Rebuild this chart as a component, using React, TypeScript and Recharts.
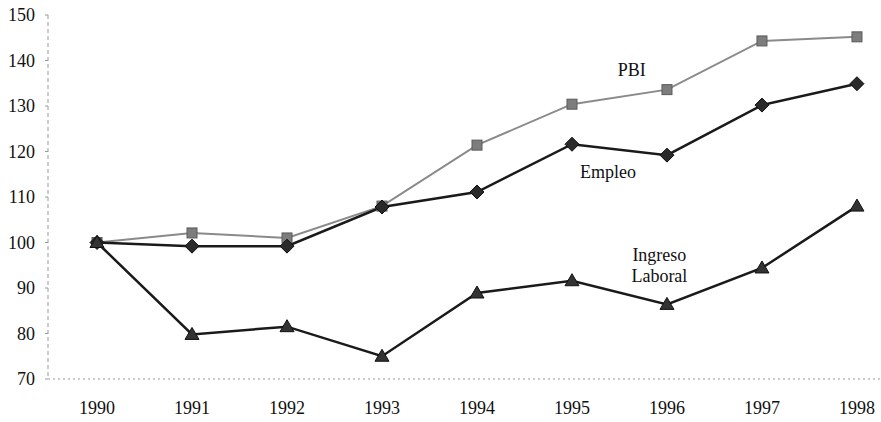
import { LineChart, Line, XAxis, YAxis, ReferenceDot } from "recharts";

const years = [1990, 1991, 1992, 1993, 1994, 1995, 1996, 1997, 1998];
const pbi = [100, 102.1, 101, 108, 121.4, 130.4, 133.6, 144.3, 145.2];
const empleo = [100, 99.2, 99.2, 107.8, 111.1, 121.6, 119.2, 130.2, 134.9];
const ingreso = [100, 79.8, 81.5, 75, 88.9, 91.6, 86.4, 94.4, 108];
const yTicks = [70, 80, 90, 100, 110, 120, 130, 140, 150];

const data = years.map((year, i) => ({
    year,
    pbi: pbi[i],
    empleo: empleo[i],
    ingreso: ingreso[i],
}));

const FONT = "Liberation Serif, Times New Roman, DejaVu Serif, serif";

const Square = (p: any) => (
    <rect x={p.cx - 5} y={p.cy - 5} width={10} height={10} fill="#7d7d7d" stroke="#5a5a5a" strokeWidth={1} />
);

const Diamond = (p: any) => (
    <path d={`M${p.cx},${p.cy - 7} L${p.cx + 7},${p.cy} L${p.cx},${p.cy + 7} L${p.cx - 7},${p.cy} Z`} fill="#2a2a2a" stroke="#111" strokeWidth={1} />
);

const Triangle = (p: any) => (
    <path d={`M${p.cx},${p.cy - 7} L${p.cx + 7},${p.cy + 5} L${p.cx - 7},${p.cy + 5} Z`} fill="#333" stroke="#111" strokeWidth={1} />
);

const note = (lines: string[]) => (p: any) => (
    <text x={p.cx} y={p.cy} textAnchor="middle" style={{ fontFamily: FONT, fontSize: 18 }} fill="#111">
        {lines.map((t, i) => (
            <tspan key={i} x={p.cx} dy={i === 0 ? `${0.35 - (lines.length - 1) * 0.6}em` : "1.2em"}>{t}</tspan>
        ))}
    </text>
);

export default function App() {
    return (
        <div style={{ position: "absolute", left: 0, top: 0, background: "#fff", fontFamily: FONT }}>
            <LineChart width={881} height={422} data={data} margin={{ top: 15, right: 0, left: 0, bottom: 0 }} style={{ fontFamily: FONT }}>
                <XAxis
                    dataKey="year"
                    type="number"
                    domain={[1989.484, 1998.253]}
                    ticks={years}
                    height={43}
                    stroke="#999"
                    strokeDasharray="2 3"
                    tickLine={false}
                    tickSize={0}
                    tickMargin={22}
                    tick={{ fill: "#111", fontSize: 18, style: { fontFamily: FONT } }}
                />
                <YAxis
                    domain={[70, 150]}
                    ticks={yTicks}
                    width={48}
                    stroke="#999"
                    strokeDasharray="4 3"
                    tickLine={{ stroke: "#999" }}
                    tickSize={3}
                    tickMargin={10}
                    tick={{ fill: "#111", fontSize: 18, style: { fontFamily: FONT } }}
                />
                <Line dataKey="pbi" stroke="#8a8a8a" strokeWidth={2} dot={Square} isAnimationActive={false} />
                <Line dataKey="empleo" stroke="#1a1a1a" strokeWidth={2.5} dot={Diamond} isAnimationActive={false} />
                <Line dataKey="ingreso" stroke="#1a1a1a" strokeWidth={2.5} dot={Triangle} isAnimationActive={false} />
                <ReferenceDot x={1995.63} y={137.9} r={0} shape={note(["PBI"])} />
                <ReferenceDot x={1995.38} y={115.5} r={0} shape={note(["Empleo"])} />
                <ReferenceDot x={1995.92} y={95} r={0} shape={note(["Ingreso", "Laboral"])} />
            </LineChart>
        </div>
    );
}
